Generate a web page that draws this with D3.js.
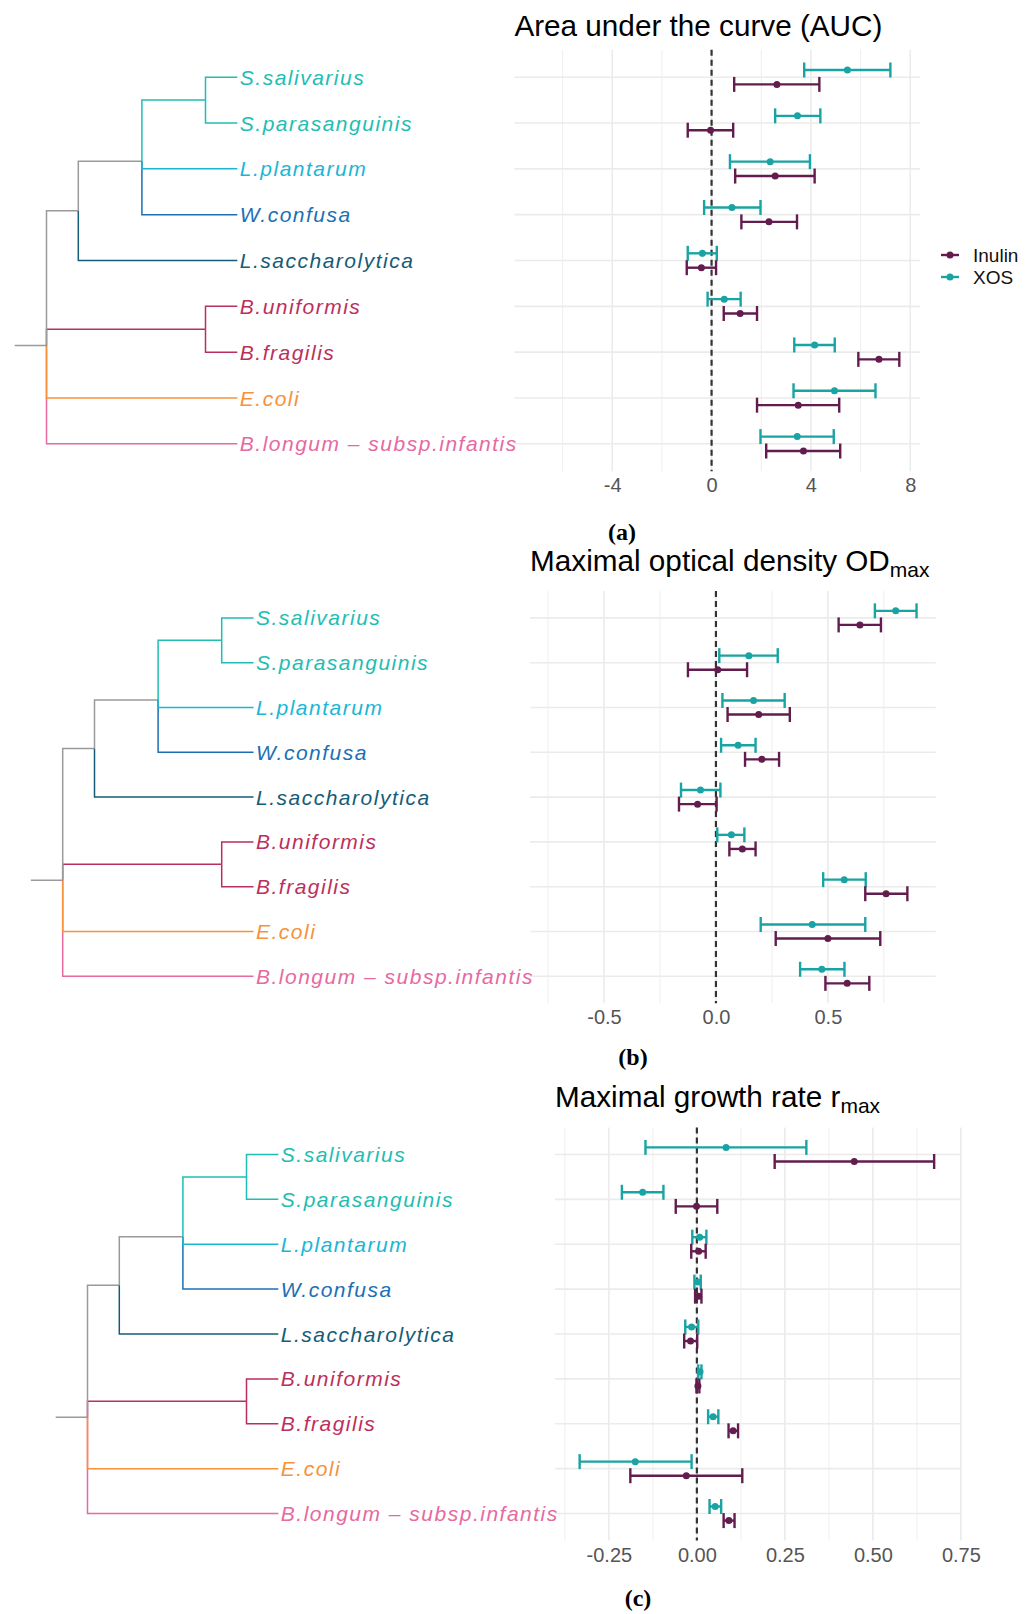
<!DOCTYPE html>
<html><head><meta charset="utf-8">
<script src="https://cdn.jsdelivr.net/npm/d3@7"></script>
<style>body{margin:0;background:#fff}svg{display:block}</style>
</head><body><svg id="chart" width="1036" height="1614"></svg>
<script>
// ---------- DATA ----------
const taxa = ["S.salivarius","S.parasanguinis","L.plantarum","W.confusa","L.saccharolytica","B.uniformis","B.fragilis","E.coli","B.longum – subsp.infantis"];
const taxonColors = ["#1fbdb2","#1fbdb2","#1ab6d6","#1b70b5","#155c78","#bb2f5c","#bb2f5c","#f7923a","#e6699f"];
const treeGray = "#9a9a9a";
// internal nodes: id, parent, depth (branch units), colour of the edge leading to it
const innerNodes = ["root","A","B","C","D"];
const innerParents = [null,"root","A","B","root"];
const innerDepths = [0,1,3,5,5];
const innerEdgeColors = [treeGray,treeGray,treeGray,"#1fbdb2","#bb2f5c"];
const tipParents = ["C","C","B","B","A","D","D","root","root"];
const tipDepth = 6;

const series = ["Inulin","XOS"];
const seriesColors = ["#621d4e","#1aa3a3"];

// [low, mean, high] per taxon
const aucInulin = [[0.91,2.63,4.34],[-0.96,-0.04,0.87],[0.95,2.56,4.15],[1.20,2.31,3.44],[-1.00,-0.41,0.18],[0.49,1.15,1.83],[5.91,6.74,7.56],[1.83,3.49,5.14],[2.20,3.70,5.18]];
const aucXos    = [[3.73,5.47,7.20],[2.56,3.46,4.38],[0.74,2.36,3.96],[-0.30,0.82,1.97],[-0.96,-0.37,0.21],[-0.16,0.51,1.17],[3.33,4.15,4.96],[3.30,4.95,6.60],[1.97,3.45,4.92]];
const odInulin  = [[0.548,0.643,0.737],[-0.125,0.008,0.139],[0.052,0.191,0.330],[0.130,0.205,0.282],[-0.165,-0.082,0.003],[0.060,0.118,0.177],[0.667,0.760,0.855],[0.267,0.500,0.734],[0.489,0.586,0.685]];
const odXos     = [[0.710,0.803,0.896],[0.015,0.147,0.276],[0.029,0.168,0.307],[0.023,0.099,0.177],[-0.156,-0.069,0.020],[0.006,0.069,0.127],[0.479,0.573,0.669],[0.200,0.430,0.667],[0.376,0.473,0.574]];
const rInulin   = [[0.221,0.447,0.674],[-0.060,-0.001,0.058],[-0.016,0.005,0.025],[-0.005,0.005,0.013],[-0.036,-0.018,0.001],[-0.001,0.003,0.007],[0.090,0.103,0.117],[-0.189,-0.030,0.129],[0.076,0.091,0.107]];
const rXos      = [[-0.146,0.083,0.311],[-0.213,-0.154,-0.095],[-0.013,0.008,0.027],[-0.007,0.003,0.011],[-0.033,-0.015,0.004],[0.004,0.009,0.013],[0.032,0.046,0.061],[-0.333,-0.175,-0.015],[0.036,0.052,0.069]];

const aucTicks = [-4,0,4,8], aucMinor = [-6,-2,2,6], aucTickLabels = ["-4","0","4","8"];
const odTicks = [-0.5,0,0.5], odMinor = [-0.75,-0.25,0.25,0.75], odTickLabels = ["-0.5","0.0","0.5"];
const rTicks = [-0.25,0,0.25,0.5,0.75], rMinor = [-0.375,-0.125,0.125,0.375,0.625], rTickLabels = ["-0.25","0.00","0.25","0.50","0.75"];

const titles = ["Area under the curve (AUC)","Maximal optical density OD","Maximal growth rate r"];
const titleSubs = [null,"max","max"];
const tags = ["(a)","(b)","(c)"];

// ---------- LAYOUT ----------
const panels = [
  {inulin:aucInulin, xos:aucXos, ticks:aucTicks, minor:aucMinor, labels:aucTickLabels,
   domain:[-7.94,8.385], range:[514.4,919.8], top:49.7, bottom:471.3, titleY:36, treeRoot:46.5, tagX:622, tagY:540, legend:true},
  {inulin:odInulin, xos:odXos, ticks:odTicks, minor:odMinor, labels:odTickLabels,
   domain:[-0.830,0.982], range:[530.1,935.8], top:591.0, bottom:1003.2, titleY:571, treeRoot:62.7, tagX:633, tagY:1065, legend:false},
  {inulin:rInulin, xos:rXos, ticks:rTicks, minor:rMinor, labels:rTickLabels,
   domain:[-0.403,0.7503], range:[555,961], top:1127.5, bottom:1540.5, titleY:1107, treeRoot:87.5, tagX:638, tagY:1606, legend:false}
];
const treeUnit = 31.8;
const svg = d3.select("#chart");
const FONT = "'Liberation Sans', Arial, Helvetica, sans-serif";

panels.forEach((p, pi) => {
  const g = svg.append("g");
  const x = d3.scaleLinear().domain(p.domain).range(p.range);
  const y = d3.scalePoint().domain(taxa).range([p.top, p.bottom]).padding(0.6);
  const step = y.step();
  const dodge = 0.157 * step;

  // grid
  g.selectAll(".minor").data(p.minor).join("line")
    .attr("x1", d => x(d)).attr("x2", d => x(d)).attr("y1", p.top).attr("y2", p.bottom)
    .attr("stroke", "#f0f0f0").attr("stroke-width", 1.1);
  g.selectAll(".major").data(p.ticks).join("line")
    .attr("x1", d => x(d)).attr("x2", d => x(d)).attr("y1", p.top).attr("y2", p.bottom)
    .attr("stroke", "#ebebeb").attr("stroke-width", 1.6);
  g.selectAll(".hgrid").data(taxa).join("line")
    .attr("x1", p.range[0]).attr("x2", p.range[1]).attr("y1", d => y(d)).attr("y2", d => y(d))
    .attr("stroke", "#ebebeb").attr("stroke-width", 1.6);

  // zero line
  g.append("line").attr("x1", x(0)).attr("x2", x(0)).attr("y1", p.top).attr("y2", p.bottom)
    .attr("stroke", "#333").attr("stroke-width", 2.2).attr("stroke-dasharray", "6,4");

  // error bars
  const sets = [{data:p.xos, off:-dodge, color:seriesColors[1]}, {data:p.inulin, off:dodge, color:seriesColors[0]}];
  sets.forEach(s => {
    const eg = g.append("g");
    s.data.forEach((v, i) => {
      const yy = y(taxa[i]) + s.off;
      eg.append("line").attr("x1", x(v[0])).attr("x2", x(v[2])).attr("y1", yy).attr("y2", yy)
        .attr("stroke", s.color).attr("stroke-width", 2.4);
      [v[0], v[2]].forEach(c => eg.append("line").attr("x1", x(c)).attr("x2", x(c))
        .attr("y1", yy - 7.5).attr("y2", yy + 7.5).attr("stroke", s.color).attr("stroke-width", 2.4));
      eg.append("circle").attr("cx", x(v[1])).attr("cy", yy).attr("r", 3.5).attr("fill", s.color);
    });
  });

  // x axis
  const ax = g.append("g").attr("transform", `translate(0,${p.bottom})`)
    .call(d3.axisBottom(x).tickValues(p.ticks).tickFormat((d, i) => p.labels[i]).tickSize(0).tickPadding(7));
  ax.select(".domain").remove();
  ax.selectAll("text").attr("font-family", FONT).attr("font-size", 20).attr("fill", "#555");

  // title
  const t = g.append("text").attr("x", p.range[0]).attr("y", p.titleY)
    .attr("font-family", FONT).attr("font-size", 29.7).attr("fill", "#000").text(titles[pi]);
  if (titleSubs[pi]) t.append("tspan").attr("font-size", 21).attr("dy", 6).text(titleSubs[pi]);

  // legend
  if (p.legend) {
    series.forEach((s, i) => {
      const ly = 255 + i * 22;
      g.append("line").attr("x1", 941).attr("x2", 959).attr("y1", ly).attr("y2", ly)
        .attr("stroke", seriesColors[i]).attr("stroke-width", 2.4);
      g.append("circle").attr("cx", 950).attr("cy", ly).attr("r", 3.5).attr("fill", seriesColors[i]);
      g.append("text").attr("x", 973).attr("y", ly).attr("dy", "0.35em")
        .attr("font-family", FONT).attr("font-size", 19).attr("fill", "#111").text(s);
    });
  }

  // tree
  const tx = d3.scaleLinear().domain([0, tipDepth]).range([p.treeRoot, p.treeRoot + tipDepth * treeUnit]);
  const nodes = {};
  taxa.forEach((tname, i) => nodes[tname] = {depth: tipDepth, y: y(tname), parent: tipParents[i], color: taxonColors[i], kids: []});
  innerNodes.forEach((n, i) => nodes[n] = {depth: innerDepths[i], parent: innerParents[i], color: innerEdgeColors[i], kids: []});
  Object.keys(nodes).forEach(k => { const par = nodes[k].parent; if (par) nodes[par].kids.push(k); });
  const yOf = k => { const n = nodes[k]; if (n.y === undefined) n.y = d3.mean(n.kids, yOf); return n.y; };
  yOf("root");
  // draw order: bottom clades first so upper edges overlay shared verticals
  const order = ["B.longum – subsp.infantis","E.coli","D","B.fragilis","B.uniformis","A","L.saccharolytica","B","W.confusa","L.plantarum","C","S.parasanguinis","S.salivarius"];
  const tg = g.append("g").attr("fill", "none").attr("stroke-width", 1.5);
  const root = nodes.root;
  tg.append("line").attr("x1", tx(-1)).attr("x2", tx(0)).attr("y1", root.y).attr("y2", root.y).attr("stroke", treeGray);
  order.forEach(k => {
    const n = nodes[k], par = nodes[n.parent];
    tg.append("path").attr("d", `M${tx(par.depth)},${par.y}V${n.y}H${tx(n.depth)}`).attr("stroke", n.color);
  });
  taxa.forEach((tname, i) => {
    g.append("text").attr("x", tx(tipDepth) + 2.5).attr("y", y(tname)).attr("dy", "0.36em")
      .attr("font-family", FONT).attr("font-style", "italic").attr("font-size", 21)
      .attr("letter-spacing", 1.5).attr("fill", taxonColors[i]).text(tname);
  });

  // panel tag
  svg.append("text").attr("x", p.tagX).attr("y", p.tagY).attr("text-anchor", "middle")
    .attr("font-family", "'Liberation Serif', 'Times New Roman', serif").attr("font-weight", "bold")
    .attr("font-size", 24).attr("fill", "#000").text(tags[pi]);
});
</script></body></html>
